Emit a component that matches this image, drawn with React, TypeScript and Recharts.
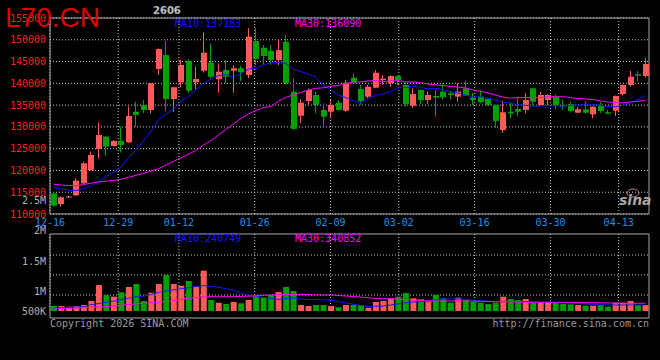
import React from 'react';
import { ComposedChart, Bar, Line, XAxis, YAxis, CartesianGrid, ReferenceArea, Cell } from 'recharts';

const dates = [
  '12-16', '12-17', '12-18', '12-19', '12-22', '12-23', '12-24', '12-25', '12-26', '12-29',
  '12-30', '12-31', '01-05', '01-06', '01-07', '01-08', '01-09', '01-12', '01-13', '01-14',
  '01-15', '01-16', '01-19', '01-20', '01-21', '01-22', '01-23', '01-26', '01-27', '01-28',
  '01-29', '01-30', '02-02', '02-03', '02-04', '02-05', '02-06', '02-09', '02-10', '02-11',
  '02-12', '02-13', '02-24', '02-25', '02-26', '02-27', '03-02', '03-03', '03-04', '03-05',
  '03-06', '03-09', '03-10', '03-11', '03-12', '03-13', '03-16', '03-17', '03-18', '03-19',
  '03-20', '03-23', '03-24', '03-25', '03-26', '03-27', '03-30', '03-31', '04-01', '04-02',
  '04-03', '04-07', '04-08', '04-09', '04-10', '04-13', '04-14', '04-15', '04-16', '04-17',
];

const open = [
  114750, 112300, 113790, 114290, 117050, 120100, 124920, 127750, 125610, 126760,
  126460, 133490, 135030, 133880, 143290, 146510, 136400, 140240, 145130, 140240,
  142900, 144740, 140930, 143060, 142900, 143450, 141910, 149720, 148180, 147420,
  145360, 149560, 138080, 132570, 135940, 137320, 133880, 133490, 135550, 133720,
  141290, 138700, 136930, 139000, 140770, 140010, 141680, 139620, 134870, 138470,
  136170, 137090, 138080, 137710, 136930, 138860, 136700, 136930, 136400, 135030,
  129290, 133490, 134110, 133880, 138860, 135030, 136170, 136930, 134870, 135260,
  133260, 134040, 132890, 134800, 133350, 133720, 137550, 139620, 142080, 141680,
];

const close = [
  111910, 113840, 114020, 117650, 121640, 123550, 128140, 125450, 126760, 125840,
  132500, 132730, 133880, 140010, 147880, 136400, 139090, 144210, 138310, 141000,
  147030, 141520, 142670, 141520, 143450, 142530, 150710, 145590, 146280, 145360,
  147650, 140010, 129520, 135550, 138470, 135030, 132340, 135030, 133880, 140010,
  140010, 135940, 139230, 142440, 141060, 141680, 140770, 135260, 137550, 136170,
  137320, 136700, 136790, 137320, 138080, 137160, 136170, 135650, 135030, 131350,
  133350, 133120, 133490, 136170, 135780, 137320, 137320, 135030, 134640, 133650,
  134040, 133260, 134640, 133650, 133030, 137090, 139620, 141520, 141750, 144440,
];

const high = [
  114940, 114020, 114200, 118200, 122010, 124300, 130960, 127980, 126990, 130040,
  134640, 135780, 136170, 140080, 148000, 149720, 139160, 145360, 145520, 143820,
  151720, 149190, 144600, 145360, 144210, 143980, 152640, 152640, 148800, 148800,
  149950, 151100, 141160, 136340, 138860, 138080, 135420, 136170, 136170, 140770,
  142300, 139620, 139620, 143060, 141910, 141800, 141800, 140380, 138860, 138630,
  138080, 138470, 140010, 138310, 140010, 140600, 137850, 138470, 136520, 135140,
  136010, 135780, 136700, 137710, 138930, 138080, 137480, 137480, 136340, 135780,
  134570, 135780, 134680, 135780, 133880, 137210, 139730, 142830, 142830, 145750,
];

const low = [
  111720, 111680, 113670, 114200, 116890, 119990, 122790, 123390, 125450, 124080,
  126300, 130040, 133120, 133120, 141910, 133650, 133490, 139090, 137850, 138470,
  142440, 141160, 137850, 140010, 137850, 140540, 141160, 144210, 144210, 144210,
  144210, 139620, 129400, 130830, 135030, 133120, 130040, 132340, 133760, 133490,
  139960, 135030, 136560, 138930, 139620, 139230, 139620, 134640, 134410, 135260,
  135260, 132340, 136170, 136340, 135780, 137090, 135030, 135420, 134910, 129810,
  128670, 131970, 132340, 133120, 135030, 134910, 135030, 134110, 133880, 133350,
  133190, 133120, 131970, 133120, 132960, 132500, 137160, 139230, 140380, 141290,
];

const ma10 = [
  116090, 115740, 115470, 115400, 115810, 116430, 117460, 118590, 119550, 120880,
  122930, 124830, 126810, 129060, 131670, 132960, 134060, 135920, 137090, 138610,
  140050, 140930, 141820, 141960, 141520, 142140, 143290, 143430, 144230, 144670,
  144740, 144580, 143270, 142670, 142170, 141410, 139570, 138520, 137280, 136750,
  135990, 135580, 136540, 137230, 137510, 138170, 139000, 139020, 139390, 139020,
  138750, 138810, 138590, 138060, 137760, 137320, 136860, 136890, 136630, 136150,
  135760, 135390, 135070, 134960, 134730, 134750, 134870, 134800, 134750, 134980,
  135050, 135070, 135190, 134930, 134660, 134640, 134870, 135510, 136220, 137180,
];

const ma30 = [
  116840, 116660, 116520, 116540, 116770, 117070, 117370, 117550, 117720, 117990,
  118430, 118890, 119350, 119870, 120420, 121250, 122080, 122900, 123730, 124600,
  125840, 126880, 128140, 129400, 130660, 131930, 132960, 133760, 134450, 134700,
  135900, 136770, 137300, 137900, 138450, 138840, 138980, 139300, 139530, 140010,
  140260, 140350, 140540, 140630, 140400, 140560, 140630, 140330, 140310, 140150,
  139820, 139660, 139460, 139320, 139140, 138950, 138470, 138150, 137780, 137300,
  136840, 136610, 136730, 136750, 136660, 136750, 136910, 136910, 136930, 136730,
  136520, 136430, 136270, 135990, 135720, 135550, 135530, 135740, 135880, 136090,
];

const volume = [
  753000, 753000, 741000, 753000, 770000, 836000, 1102000, 936000, 908000, 981000,
  1069000, 1119000, 836000, 974000, 1119000, 1268000, 1119000, 1091000, 1169000, 1074000,
  1340000, 853000, 808000, 786000, 820000, 798000, 853000, 924000, 891000, 936000,
  986000, 1069000, 1002000, 770000, 753000, 770000, 770000, 753000, 732000, 770000,
  770000, 770000, 725000, 820000, 836000, 881000, 908000, 969000, 881000, 869000,
  836000, 936000, 881000, 808000, 891000, 853000, 825000, 808000, 786000, 808000,
  908000, 869000, 853000, 869000, 815000, 815000, 815000, 808000, 786000, 781000,
  770000, 758000, 758000, 770000, 741000, 808000, 808000, 836000, 770000, 770000,
];

const volMa10 = [
  716500, 723200, 729800, 736500, 743100, 774700, 794700, 813000, 834600, 856200,
  882800, 904400, 919300, 944300, 980900, 1002500, 1022400, 1039000, 1057300, 1075600,
  1092200, 1080600, 1065600, 1039000, 1015800, 970900, 932600, 916000, 896100, 879500,
  861200, 879500, 884400, 869500, 862800, 859500, 856200, 851200, 827900, 804600,
  781400, 764800, 748100, 748100, 753100, 769700, 789700, 806300, 817900, 826300,
  834600, 849500, 869500, 869500, 869500, 864500, 852900, 844500, 832900, 826300,
  824600, 824600, 824600, 824600, 822900, 819600, 816300, 809600, 804600, 801300,
  798000, 789700, 778000, 773100, 769700, 769700, 769700, 769700, 769700, 769700,
];

const volMa30 = [
  701600, 708200, 713200, 719900, 724900, 731500, 736500, 741500, 753100, 766400,
  778000, 788000, 798000, 806300, 814600, 824600, 842900, 864500, 882800, 892700,
  902700, 907700, 907700, 907700, 907700, 912700, 916000, 922700, 932600, 936000,
  939300, 942600, 945900, 947600, 942600, 937600, 936000, 936000, 927700, 919300,
  911000, 902700, 889400, 879500, 876100, 872800, 869500, 861200, 852900, 844500,
  837900, 836200, 836200, 836200, 836200, 834600, 832900, 829600, 827900, 824600,
  822900, 821300, 817900, 816300, 814600, 814600, 814600, 814600, 814600, 813000,
  811300, 809600, 808000, 806300, 804600, 803000, 799700, 798000, 798000, 798000,
];

// date ticks (index into dates) and axis levels
const tickIdx = [0, 9, 17, 27, 37, 46, 56, 66, 75];
const priceTicks = [110000, 115000, 120000, 125000, 130000, 135000, 140000, 145000, 150000, 155000];
const volTicks = [500000, 1000000, 1500000, 2000000, 2500000];
const volGrid = [935000, 1270000, 1600000];

const RED = '#ff5a5a';
const GREEN = '#00a000';
const BLUE = '#1414ff';
const MAGENTA = '#ff00ff';
const GRID = '#c8c8c8';
const FRAME = '#a8a8a8';
const MONO = '"DejaVu Sans Mono", monospace';

const VOL_H = 170;
const VOL_MARGIN = { top: 28, right: 11, bottom: 49, left: 0 };

const data = dates.map((d, i) => ({
  i,
  d,
  open: open[i],
  close: close[i],
  high: high[i],
  low: low[i],
  ma10: ma10[i],
  ma30: ma30[i],
  vol: volume[i],
  vma10: volMa10[i],
  vma30: volMa30[i],
}));

const Candle = (props: any) => {
  const { x, y, width, height, payload } = props;
  const { open: o, close: c, high: h, low: l } = payload;
  const color = c >= o ? RED : GREEN;
  const k = h > l ? height / (h - l) : 0;
  const yo = y + (h - o) * k;
  const yc = y + (h - c) * k;
  const left = Math.round(x);
  const cx = left + 2.5;
  return (
    <g>
      <line x1={cx} x2={cx} y1={y} y2={y + height} stroke={color} strokeWidth={1} />
      <rect x={left} y={Math.min(yo, yc)} width={width} height={Math.max(Math.abs(yo - yc), 1)} fill={color} />
    </g>
  );
};

// date labels sit between the two panels, drawn by the volume panel's top axis
const DateTick = (props: any) => {
  const { x, y, payload } = props;
  return (
    <text x={x} y={y} dy={-8} textAnchor="middle" fill="#1a90e8" fontSize={10} fontFamily={MONO}>
      {dates[payload.value]}
    </text>
  );
};

const volLabel = (v: number) => (v >= 1000000 ? `${v / 1000000}M` : `${v / 1000}K`);

const VolTick = (props: any) => {
  const { x, y, payload } = props;
  return (
    <text x={x} y={Math.min(y, VOL_H - VOL_MARGIN.bottom)} dy={3.5} textAnchor="end" fill="#b0b0b0" fontSize={10} fontFamily={MONO}>
      {volLabel(payload.value)}
    </text>
  );
};

const smallText = { fontFamily: MONO, fontSize: 10 };

export default function App() {
  return (
    <div style={{ position: 'absolute', left: 0, top: 0, width: 660, height: 360, background: '#000', overflow: 'hidden' }}>
      <div style={{ position: 'absolute', left: 0, top: 0 }}>
        <ComposedChart width={660} height={232} data={data} margin={{ top: 18, right: 11, bottom: 18, left: 0 }}>
          <CartesianGrid xAxisId="g" stroke={GRID} strokeDasharray="1 2" verticalValues={tickIdx} horizontalValues={priceTicks} />
          <XAxis xAxisId="k" dataKey="d" type="category" hide />
          <XAxis xAxisId="g" dataKey="i" type="number" domain={[0, 79]} ticks={tickIdx} hide />
          <YAxis
            domain={[110000, 155000]}
            allowDataOverflow
            ticks={priceTicks}
            interval={0}
            width={50}
            axisLine={false}
            tickLine={false}
            tickSize={0}
            tickMargin={4}
            tick={{ fill: '#ff2020', fontSize: 10, fontFamily: MONO }}
          />
          <ReferenceArea xAxisId="g" x1={0} x2={79} y1={110000} y2={155000} fill="none" stroke={FRAME} ifOverflow="visible" />
          <Bar
            xAxisId="k"
            dataKey={(e: any) => [e.low, e.high]}
            barSize={6}
            shape={(p: any) => <Candle {...p} />}
            isAnimationActive={false}
          />
          <Line xAxisId="k" type="linear" dataKey="ma10" stroke={BLUE} strokeWidth={1} dot={false} isAnimationActive={false} />
          <Line xAxisId="k" type="linear" dataKey="ma30" stroke={MAGENTA} strokeWidth={1} dot={false} isAnimationActive={false} />
        </ComposedChart>
      </div>

      <div style={{ position: 'absolute', left: 0, top: 190 }}>
        <ComposedChart width={660} height={VOL_H} data={data} margin={VOL_MARGIN}>
          <CartesianGrid xAxisId="g" stroke={GRID} strokeDasharray="1 2" verticalValues={tickIdx} horizontalValues={volGrid} />
          <XAxis xAxisId="k" dataKey="d" type="category" hide />
          <XAxis
            xAxisId="g"
            dataKey="i"
            type="number"
            orientation="top"
            domain={[0, 79]}
            ticks={tickIdx}
            interval={0}
            axisLine={false}
            tickLine={false}
            tickSize={0}
            tickMargin={0}
            height={16}
            tick={(p: any) => <DateTick {...p} />}
          />
          <YAxis
            domain={[670000, 1950000]}
            allowDataOverflow
            ticks={volTicks}
            interval={0}
            width={50}
            axisLine={false}
            tickLine={false}
            tickSize={0}
            tickMargin={4}
            tick={(p: any) => <VolTick {...p} />}
          />
          <ReferenceArea xAxisId="g" x1={0} x2={79} y1={553600} y2={1950000} fill="none" stroke={FRAME} ifOverflow="visible" />
          <Bar xAxisId="k" dataKey="vol" barSize={6} isAnimationActive={false}>
            {data.map((e) => (
              <Cell key={e.d} fill={e.close >= e.open ? RED : GREEN} />
            ))}
          </Bar>
          <Line xAxisId="k" type="linear" dataKey="vma10" stroke={BLUE} strokeWidth={1} dot={false} isAnimationActive={false} />
          <Line xAxisId="k" type="linear" dataKey="vma30" stroke={MAGENTA} strokeWidth={1} dot={false} isAnimationActive={false} />
        </ComposedChart>
      </div>

      <svg width={660} height={360} style={{ position: 'absolute', left: 0, top: 0, pointerEvents: 'none' }}>
        <text x={5} y={27} fill="#dd0000" fontSize={28} fontFamily='"Liberation Sans", Arial, sans-serif'>L70.CN</text>
        <text x={153} y={14} fill="#d4d4d4" stroke="#666" strokeWidth={0.4} fontSize={10} fontWeight="bold" fontFamily='"DejaVu Sans", sans-serif'>2606</text>
        <text x={175} y={27} fill={BLUE} {...smallText}>MA10:137183</text>
        <text x={295} y={27} fill={MAGENTA} {...smallText}>MA30:136090</text>
        <text x={175} y={242} fill={BLUE} {...smallText}>MA10:240749</text>
        <text x={295} y={242} fill={MAGENTA} {...smallText}>MA30:340852</text>
        <text x={50} y={327} fill="#9a9a9a" {...smallText}>Copyright 2026 SINA.COM</text>
        <text x={649} y={327} fill="#9a9a9a" textAnchor="end" {...smallText}>http://finance.sina.com.cn</text>
        <ellipse cx={633} cy={193} rx={6} ry={4} fill="none" stroke="#d08080" strokeWidth={1} />
        <text x={619} y={205} fill="#a8a8a8" fontSize={14} fontStyle="italic" fontWeight="bold" fontFamily='"DejaVu Sans", sans-serif'>sina</text>
      </svg>
    </div>
  );
}
